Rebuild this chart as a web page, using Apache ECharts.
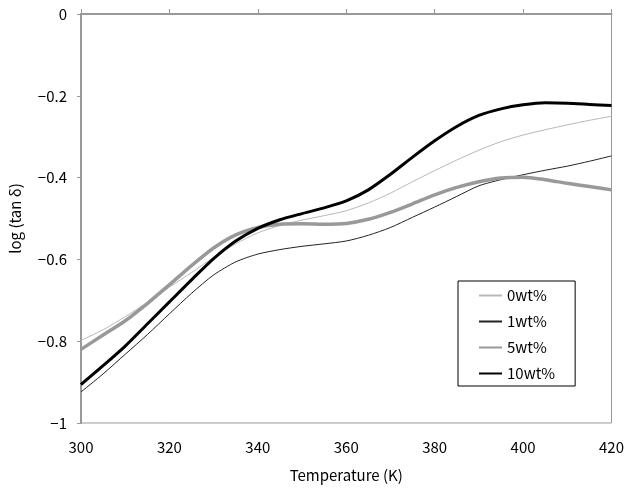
<!DOCTYPE html>
<html>
<head>
<meta charset="utf-8">
<script src="https://cdn.jsdelivr.net/npm/echarts@6/dist/echarts.min.js"></script>
<style>
  html, body { margin: 0; padding: 0; background: #fff; }
  #chart { width: 627px; height: 488px; }
</style>
</head>
<body>
<div id="chart"></div>
<script>
  // temperature (K), one point every 5 K
  var temps = [300, 305, 310, 315, 320, 325, 330, 335, 340, 345, 350, 355, 360,
               365, 370, 375, 380, 385, 390, 395, 400, 405, 410, 415, 420];

  var wt0 = [-0.798, -0.772, -0.740, -0.705, -0.668, -0.632, -0.595, -0.562, -0.535,
             -0.517, -0.504, -0.493, -0.481, -0.462, -0.438, -0.410, -0.383, -0.357,
             -0.333, -0.312, -0.296, -0.283, -0.271, -0.260, -0.250];
  var wt1 = [-0.924, -0.880, -0.832, -0.784, -0.733, -0.683, -0.638, -0.606, -0.587,
             -0.576, -0.568, -0.562, -0.555, -0.541, -0.522, -0.497, -0.472, -0.446,
             -0.420, -0.405, -0.393, -0.382, -0.372, -0.360, -0.347];
  var wt5 = [-0.820, -0.785, -0.750, -0.708, -0.662, -0.615, -0.572, -0.540, -0.522,
             -0.514, -0.513, -0.514, -0.512, -0.502, -0.485, -0.464, -0.442, -0.424,
             -0.410, -0.401, -0.399, -0.405, -0.414, -0.422, -0.430];
  var wt10 = [-0.906, -0.860, -0.812, -0.758, -0.704, -0.650, -0.598, -0.555, -0.524,
              -0.503, -0.488, -0.474, -0.457, -0.430, -0.392, -0.350, -0.310, -0.275,
              -0.248, -0.232, -0.222, -0.217, -0.218, -0.221, -0.224];

  var names = ['0wt%', '1wt%', '5wt%', '10wt%'];

  function pairs(vals) {
    return temps.map(function (t, i) { return [t, vals[i]]; });
  }

  var font = '"Noto Sans CJK JP", "Liberation Sans", sans-serif';

  function line(name, vals, color, width) {
    return {
      name: name,
      type: 'line',
      data: pairs(vals),
      smooth: 0.25,
      showSymbol: false,
      symbol: 'none',
      lineStyle: { color: color, width: width },
      itemStyle: { color: color }
    };
  }

  var chart = echarts.init(document.getElementById('chart'));

  chart.setOption({
    animation: false,
    backgroundColor: '#fff',
    grid: {
      show: true,
      left: 80, right: 12, top: 14, bottom: 61,
      borderColor: '#999',
      borderWidth: 1
    },
    legend: {
      data: names,
      orient: 'vertical',
      left: 458,
      top: 281,
      backgroundColor: '#fff',
      borderColor: '#000',
      borderWidth: 1,
      borderRadius: 0,
      padding: [7, 20, 5, 20],
      itemWidth: 23,
      itemHeight: 14,
      itemGap: 11,
      itemStyle: { opacity: 0 },
      textStyle: { fontFamily: font, fontSize: 15, color: '#000' }
    },
    xAxis: {
      type: 'value',
      min: 300, max: 420, interval: 20,
      name: 'Temperature (K)',
      nameLocation: 'middle',
      nameGap: 45,
      nameTextStyle: { fontFamily: font, fontSize: 15, color: '#000' },
      axisLine: { lineStyle: { color: '#999', width: 2 } },
      axisTick: { inside: true, length: 5, lineStyle: { color: '#999' } },
      axisLabel: { fontFamily: font, fontSize: 15, color: '#000', margin: 17 },
      splitLine: { show: false }
    },
    yAxis: {
      type: 'value',
      min: -1, max: 0, interval: 0.2,
      name: 'log (tan δ)',
      nameLocation: 'middle',
      nameGap: 58,
      nameTextStyle: { fontFamily: font, fontSize: 15, color: '#000' },
      axisLine: { show: true, lineStyle: { color: '#999', width: 2 } },
      axisTick: { show: true, inside: false, length: 4, lineStyle: { color: '#999' } },
      axisLabel: {
        fontFamily: font, fontSize: 15, color: '#000', margin: 14,
        formatter: function (v) {
          var s = String(Math.round(v * 10) / 10);
          return s.replace('-', '\u2212');
        }
      },
      splitLine: { show: false }
    },
    series: [
      line(names[0], wt0, '#b8b8b8', 1),
      line(names[1], wt1, '#222', 1),
      line(names[2], wt5, '#999', 3.5),
      line(names[3], wt10, '#000', 3)
    ]
  });
</script>
</body>
</html>
